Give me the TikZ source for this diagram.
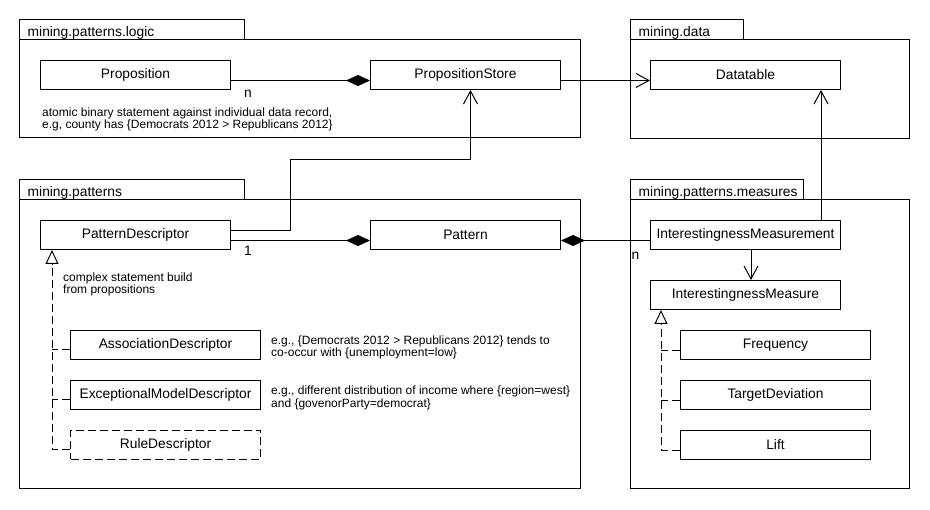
\documentclass[tikz,border=0pt]{standalone}
\usepackage{fontspec}
\setmainfont{Liberation Sans}
\usetikzlibrary{arrows.meta,calc}
\begin{document}
\begin{tikzpicture}[x=1pt,y=-1pt,
  every node/.style={font=\fontsize{13.8}{16}\selectfont, inner sep=0pt},
  cls/.style={draw,line width=1pt,minimum width=190pt,minimum height=29pt,anchor=north west},
  dcls/.style={cls,dash pattern=on 8pt off 4pt},
  pkg/.style={draw,line width=1pt},
  pkglabel/.style={anchor=base west},
  note/.style={font=\fontsize{12}{12.5}\selectfont,align=left,anchor=west},
  mult/.style={},
  conn/.style={line width=1pt},
  dline/.style={line width=1pt,dash pattern=on 8pt off 4pt},
  compo/.style={-{Diamond[length=24pt,width=11pt]}},
  dep/.style={-{Straight Barb[length=13pt,width=14pt,line width=1pt]}},
  gen/.style={dline,-{Triangle[length=14pt,width=13pt,fill=white,line width=1pt]}}
]
\fill[white] (0,0) rectangle (930,510);
\useasboundingbox (0,0) rectangle (930,510);

% packages
\draw[pkg] (19,20) rectangle (244,40);
\draw[pkg] (19,40) rectangle (580,138);
\node[pkglabel] (l1) at (27.5,37) {mining.patterns.logic};

\draw[pkg] (630,20) rectangle (743,40);
\draw[pkg] (630,40) rectangle (909,139);
\node[pkglabel] (l2) at (638.5,37) {mining.data};

\draw[pkg] (19,180) rectangle (244,200);
\draw[pkg] (19,200) rectangle (580,489);
\node[pkglabel] (l3) at (27.5,197) {mining.patterns};

\draw[pkg] (630,180) rectangle (803,200);
\draw[pkg] (630,200) rectangle (909,489);
\node[pkglabel] (l4) at (638.5,197) {mining.patterns.measures};

% classes
\node[cls] (prop) at (40,60) {Proposition};
\node[cls] (pstore) at (370,60) {PropositionStore};
\node[cls] (dt) at (650,60) {Datatable};
\node[cls] (pd) at (40,220) {PatternDescriptor};
\node[cls] (pat) at (370,220) {Pattern};
\node[cls] (imt) at (650,220) {InterestingnessMeasurement};
\node[cls] (ime) at (650,280) {InterestingnessMeasure};
\node[cls] (freq) at (680,330) {Frequency};
\node[cls] (td) at (680,380) {TargetDeviation};
\node[cls] (lift) at (680,430) {Lift};
\node[cls] (ad) at (70,330) {AssociationDescriptor};
\node[cls] (emd) at (70,380) {ExceptionalModelDescriptor};
\node[dcls] (rd) at (70,430) {RuleDescriptor};

% notes
\node[note] (n1) at (42,119.5) {atomic binary statement against individual data record,\\e.g, county has \{Democrats 2012 > Republicans 2012\}};
\node[note] (n2) at (63,284.5) {complex statement build\\from propositions};
\node[note] (n3) at (271,347.5) {e.g., \{Democrats 2012 > Republicans 2012\} tends to\\co-occur with \{unemployment=low\}};
\node[note] (n4) at (271,398) {e.g., different distribution of income where \{region=west\}\\and \{govenorParty=democrat\}};

% multiplicities
\node[mult] (m1) at (248,93.5) {n};
\node[mult] (m2) at (248,251) {1};
\node[mult] (m3) at (635.5,256) {n};

% connectors
\draw[conn,compo] ([yshift=-5.5pt]prop.east) -- ([yshift=-5.5pt]pstore.west);
\draw[conn,dep] ([yshift=-5.5pt]pstore.east) -- ([yshift=-5.5pt]dt.west);
\coordinate (bend) at (290,160);
\draw[conn,dep] ([yshift=4.5pt]pd.east) -| (bend) -| ([xshift=5pt]pstore.south);
\draw[conn,compo] ([yshift=-5.5pt]pd.east) -- ([yshift=-5.5pt]pat.west);
\draw[conn,{Diamond[length=24pt,width=11pt]}-] ([yshift=-5.5pt]pat.east) -- ([yshift=-5.5pt]imt.west);
\draw[conn,dep] ([xshift=75.5pt]imt.north) -- ([xshift=75.5pt]dt.south);
\draw[conn,dep] ([xshift=5.5pt]imt.south) -- ([xshift=5.5pt]ime.north);

\draw[gen] ([yshift=-5pt]rd.west) -| ([xshift=12pt]pd.south west);
\draw[dline] ([yshift=-5pt]ad.west) -- ++(-18pt,0);
\draw[dline] ([yshift=-5pt]emd.west) -- ++(-18pt,0);

\draw[gen] ([yshift=-5.5pt]lift.west) -| ([xshift=11pt]ime.south west);
\draw[dline] ([yshift=-6pt]freq.west) -- ++(-19pt,0);
\draw[dline] ([yshift=-6pt]td.west) -- ++(-19pt,0);
\end{tikzpicture}
\end{document}
